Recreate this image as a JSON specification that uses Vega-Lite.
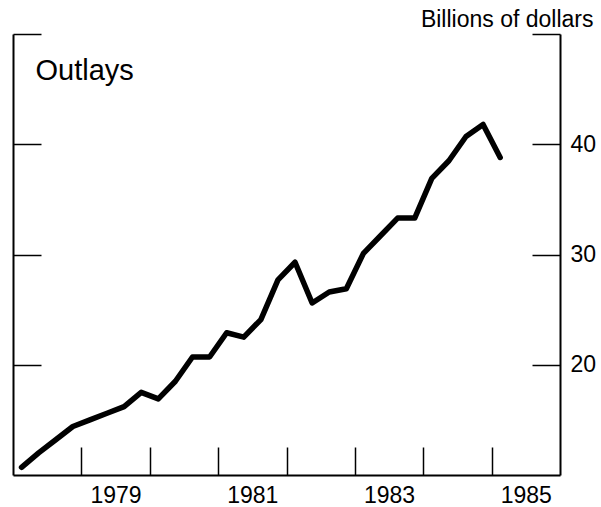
{
  "$schema": "https://vega.github.io/schema/vega-lite/v6.json",
  "width": 547,
  "height": 441,
  "autosize": {"type": "none"},
  "padding": {"left": 13, "top": 34, "right": 41, "bottom": 32},
  "background": "white",
  "config": {
    "view": {"stroke": null},
    "font": "Liberation Sans",
    "axis": {"domainColor": "black", "tickColor": "black", "labelColor": "black", "titleColor": "black", "grid": false}
  },
  "data": {
    "values": [
      {"t": 1978.125, "v": 10.7},
      {"t": 1978.375, "v": 12.0},
      {"t": 1978.625, "v": 13.2},
      {"t": 1978.875, "v": 14.4},
      {"t": 1979.125, "v": 15.0},
      {"t": 1979.375, "v": 15.6},
      {"t": 1979.625, "v": 16.2},
      {"t": 1979.875, "v": 17.5},
      {"t": 1980.125, "v": 16.9},
      {"t": 1980.375, "v": 18.5},
      {"t": 1980.625, "v": 20.7},
      {"t": 1980.875, "v": 20.7},
      {"t": 1981.125, "v": 22.9},
      {"t": 1981.375, "v": 22.5},
      {"t": 1981.625, "v": 24.1},
      {"t": 1981.875, "v": 27.7},
      {"t": 1982.125, "v": 29.3},
      {"t": 1982.375, "v": 25.6},
      {"t": 1982.625, "v": 26.6},
      {"t": 1982.875, "v": 26.9},
      {"t": 1983.125, "v": 30.1},
      {"t": 1983.375, "v": 31.7},
      {"t": 1983.625, "v": 33.3},
      {"t": 1983.875, "v": 33.3},
      {"t": 1984.125, "v": 36.9},
      {"t": 1984.375, "v": 38.5},
      {"t": 1984.625, "v": 40.7},
      {"t": 1984.875, "v": 41.8},
      {"t": 1985.125, "v": 38.8}
    ]
  },
  "layer": [
    {
      "mark": {"type": "line", "color": "black", "strokeWidth": 5.5, "strokeJoin": "round", "strokeCap": "round"},
      "encoding": {
        "x": {
          "field": "t", "type": "quantitative",
          "scale": {"domain": [1978, 1986], "nice": false, "zero": false},
          "axis": {
            "orient": "bottom",
            "title": null,
            "values": [1979, 1979.5, 1980, 1981, 1981.5, 1982, 1983, 1983.5, 1984, 1985, 1985.5],
            "tickSize": -28,
            "tickWidth": 1.5,
            "tickOpacity": {"condition": {"test": "datum.value % 1 == 0", "value": 1}, "value": 0},
            "labelExpr": "datum.value % 1 == 0.5 ? '' + floor(datum.value) : ''",
            "labelFontSize": 23,
            "labelPadding": 37,
            "labelBaseline": "top",
            "domainWidth": 2
          }
        },
        "y": {
          "field": "v", "type": "quantitative",
          "scale": {"domain": [10, 50], "nice": false, "zero": false},
          "axis": {
            "orient": "right",
            "values": [20, 30, 40, 50],
            "tickSize": -28,
            "tickWidth": 1.5,
            "labelExpr": "datum.value == 50 ? '' : datum.label",
            "labelFontSize": 23,
            "labelPadding": 38,
            "domainWidth": 2,
            "title": "Billions of dollars",
            "titleAngle": 0,
            "titleAlign": "right",
            "titleBaseline": "alphabetic",
            "titleFontSize": 23,
            "titleFontWeight": "normal",
            "titleX": 33,
            "titleY": -8
          }
        }
      }
    },
    {
      "mark": {"type": "line", "opacity": 0},
      "encoding": {
        "x": {"field": "t", "type": "quantitative"},
        "y": {
          "field": "v", "type": "quantitative",
          "axis": {
            "orient": "left",
            "values": [20, 30, 40, 50],
            "tickSize": -28,
            "tickWidth": 1.5,
            "labels": false,
            "domainWidth": 2,
            "title": "Outlays",
            "titleAngle": 0,
            "titleAlign": "left",
            "titleBaseline": "alphabetic",
            "titleFontSize": 29,
            "titleFontWeight": "normal",
            "titleX": 22,
            "titleY": 45
          }
        }
      }
    }
  ],
  "resolve": {"axis": {"y": "independent"}}
}
